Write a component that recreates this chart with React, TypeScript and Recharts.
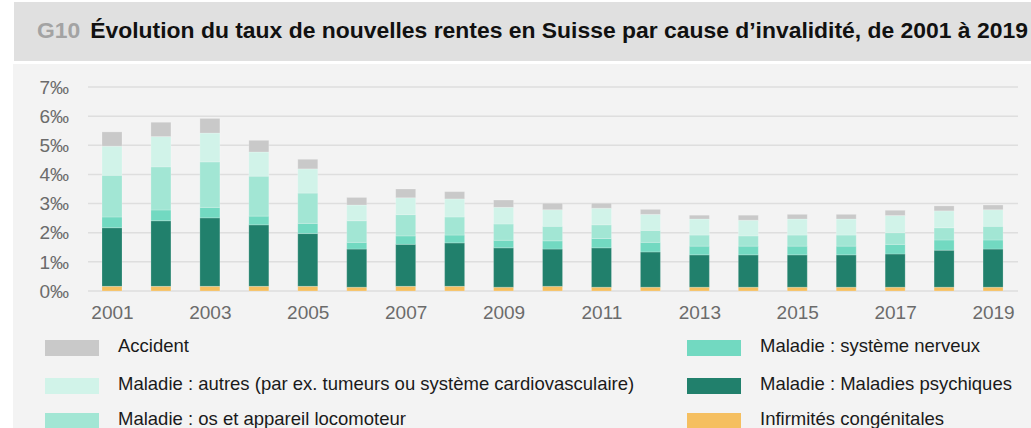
import React from "react";
import { BarChart, Bar, XAxis, YAxis, CartesianGrid } from "recharts";

const years = ["2001", "2002", "2003", "2004", "2005", "2006", "2007", "2008", "2009", "2010", "2011", "2012", "2013", "2014", "2015", "2016", "2017", "2018", "2019"];
const congenitales = [0.16, 0.16, 0.16, 0.16, 0.16, 0.13, 0.16, 0.16, 0.13, 0.16, 0.13, 0.13, 0.13, 0.13, 0.13, 0.13, 0.13, 0.13, 0.13];
const psychiques = [2.01, 2.25, 2.35, 2.11, 1.81, 1.31, 1.44, 1.49, 1.35, 1.28, 1.35, 1.21, 1.11, 1.11, 1.11, 1.11, 1.14, 1.27, 1.31];
const nerveux = [0.37, 0.37, 0.36, 0.3, 0.35, 0.23, 0.29, 0.27, 0.26, 0.28, 0.32, 0.33, 0.3, 0.3, 0.3, 0.3, 0.33, 0.35, 0.31];
const locomoteur = [1.43, 1.48, 1.56, 1.37, 1.04, 0.74, 0.73, 0.62, 0.56, 0.5, 0.47, 0.41, 0.38, 0.35, 0.38, 0.38, 0.4, 0.42, 0.47];
const autres = [1.0, 1.04, 0.99, 0.83, 0.83, 0.54, 0.58, 0.62, 0.57, 0.57, 0.57, 0.55, 0.55, 0.54, 0.55, 0.55, 0.59, 0.58, 0.57];
const accident = [0.49, 0.49, 0.5, 0.4, 0.33, 0.26, 0.3, 0.25, 0.25, 0.22, 0.17, 0.17, 0.13, 0.17, 0.16, 0.16, 0.18, 0.17, 0.16];
const yTicks = [0, 1, 2, 3, 4, 5, 6, 7];

const title = "Évolution du taux de nouvelles rentes en Suisse par cause d’invalidité, de 2001 à 2019";

// bottom to top
const series = [
  { key: "congenitales", name: "Infirmités congénitales", color: "#f5bf60" },
  { key: "psychiques", name: "Maladie : Maladies psychiques", color: "#21806c" },
  { key: "nerveux", name: "Maladie : système nerveux", color: "#72d9c1" },
  { key: "locomoteur", name: "Maladie : os et appareil locomoteur", color: "#a2e6d4" },
  { key: "autres", name: "Maladie : autres (par ex. tumeurs ou système cardiovasculaire)", color: "#d1f3e9" },
  { key: "accident", name: "Accident", color: "#c9c9c9" },
];

const data = years.map((y, i) => ({
  year: y,
  congenitales: congenitales[i],
  psychiques: psychiques[i],
  nerveux: nerveux[i],
  locomoteur: locomoteur[i],
  autres: autres[i],
  accident: accident[i],
}));

const font = '"Liberation Sans", Arial, sans-serif';

// legend: left column then right column, top to bottom
const legendOrder = ["accident", "autres", "locomoteur", "nerveux", "psychiques", "congenitales"];
const rowTops = [340, 378, 413];

export default function App() {
  return (
    <div style={{ position: "absolute", left: 0, top: 0, width: 1031, height: 428, background: "#fff", fontFamily: font, overflow: "hidden" }}>
      <div
        style={{
          position: "absolute", left: 14, top: 2, width: 1017, height: 59, background: "#e0e0e0",
          fontWeight: "bold", fontSize: 22.9, lineHeight: "56px", paddingLeft: 23, boxSizing: "border-box", whiteSpace: "nowrap",
        }}
      >
        <span style={{ color: "#a3a3a3", marginRight: 10 }}>G10</span>
        <span style={{ color: "#111" }}>{title}</span>
      </div>
      <div style={{ position: "absolute", left: 13, top: 64, width: 1018, height: 364, background: "#f3f3f3" }} />
      <div style={{ position: "absolute", left: 0, top: 64 }}>
        <BarChart width={1031} height={264} data={data} margin={{ top: 23, right: 13, left: 0, bottom: 0 }} barSize={20}>
          <CartesianGrid vertical={false} stroke="#dedede" strokeWidth={1.5} />
          <XAxis
            dataKey="year"
            interval={1}
            height={37}
            tickLine={false}
            axisLine={false}
            tickMargin={9}
            tick={{ fontSize: 19, fill: "#6b6b6b", fontFamily: font }}
          />
          <YAxis
            width={88}
            domain={[0, 7]}
            ticks={yTicks}
            tickFormatter={(v) => `${v}‰`}
            tickLine={false}
            axisLine={false}
            tickMargin={13}
            tick={{ fontSize: 19, fill: "#6b6b6b", fontFamily: font }}
          />
          {series.map((s) => (
            <Bar key={s.key} dataKey={s.key} name={s.name} stackId="a" fill={s.color} stroke="#ffffff" strokeOpacity={0.4} strokeWidth={0.5} isAnimationActive={false} />
          ))}
        </BarChart>
      </div>
      {legendOrder.map((k, i) => {
        const s = series.find((x) => x.key === k)!;
        const col = Math.floor(i / 3);
        const top = rowTops[i % 3];
        const sx = col === 0 ? 45 : 687;
        return (
          <React.Fragment key={k}>
            <div style={{ position: "absolute", left: sx, top, width: 54, height: 16, background: s.color }} />
            <div style={{ position: "absolute", left: sx + 73, top: top - 6, height: 24, lineHeight: "24px", fontSize: 18.5, color: "#1a1a1a", whiteSpace: "nowrap" }}>
              {s.name}
            </div>
          </React.Fragment>
        );
      })}
    </div>
  );
}
